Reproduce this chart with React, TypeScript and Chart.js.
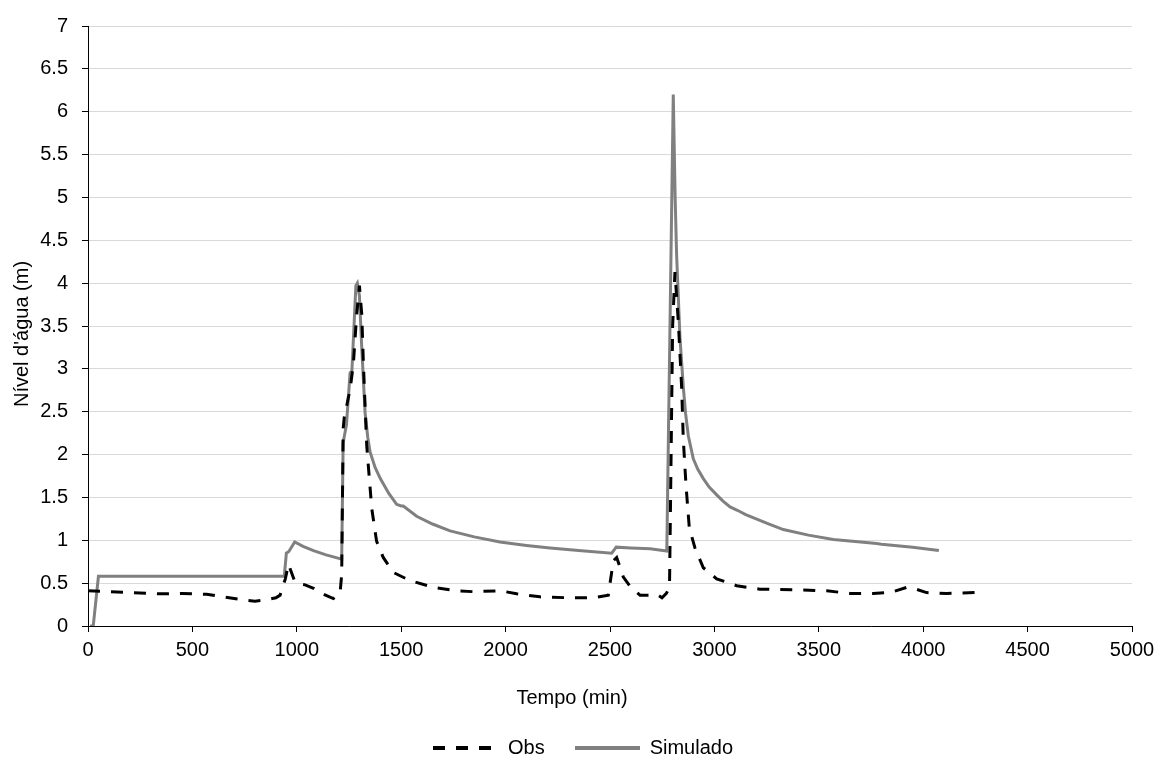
import React, { useEffect, useRef } from "react";
import { Chart, registerables } from "chart.js";

Chart.register(...registerables);

// ---- Data ----
const obsTime = [0, 100, 200, 345, 450, 568, 648, 700, 760, 800, 840, 900, 920, 945, 960, 975, 990, 1015, 1040, 1080, 1120, 1175, 1207, 1215, 1222, 1230, 1239, 1250, 1260, 1271, 1287, 1300, 1311, 1319, 1327, 1335, 1359, 1382, 1414, 1462, 1542, 1654, 1766, 1850, 1957, 2000, 2053, 2165, 2293, 2420, 2492, 2516, 2532, 2564, 2600, 2644, 2700, 2725, 2749, 2770, 2785, 2800, 2811, 2827, 2843, 2851, 2864, 2880, 2907, 2947, 3011, 3107, 3218, 3410, 3538, 3649, 3760, 3841, 3921, 3953, 4016, 4112, 4253];
const obsLevel = [0.41, 0.40, 0.39, 0.376, 0.38, 0.37, 0.34, 0.32, 0.30, 0.29, 0.30, 0.33, 0.36, 0.55, 0.72, 0.62, 0.52, 0.49, 0.48, 0.44, 0.38, 0.32, 0.38, 0.6, 2.3, 2.5, 2.57, 2.7, 2.85, 3.06, 3.64, 3.97, 3.64, 3.06, 2.57, 2.1, 1.37, 0.99, 0.80, 0.625, 0.53, 0.45, 0.41, 0.40, 0.41, 0.40, 0.376, 0.34, 0.33, 0.33, 0.36, 0.76, 0.80, 0.57, 0.45, 0.36, 0.36, 0.37, 0.33, 0.38, 0.45, 3.5, 4.13, 3.56, 2.79, 2.18, 1.64, 1.14, 0.91, 0.68, 0.55, 0.47, 0.43, 0.42, 0.41, 0.38, 0.38, 0.39, 0.45, 0.44, 0.39, 0.38, 0.39];

const simTime = [10, 25, 50, 940, 950, 962, 990, 1030, 1080, 1140, 1215, 1222, 1238, 1255, 1264, 1283, 1290, 1300, 1311, 1327, 1340, 1351, 1375, 1400, 1440, 1478, 1500, 1510, 1574, 1650, 1734, 1850, 1973, 2100, 2213, 2350, 2508, 2530, 2600, 2692, 2772, 2803, 2812, 2819, 2835, 2851, 2862, 2875, 2899, 2920, 2947, 2975, 3011, 3040, 3075, 3110, 3150, 3200, 3250, 3330, 3450, 3570, 3700, 3777, 3800, 3950, 4075];
const simLevel = [0, 0, 0.58, 0.58, 0.85, 0.87, 0.98, 0.93, 0.88, 0.83, 0.78, 2.14, 2.35, 2.95, 2.98, 3.97, 4.0, 3.85, 3.25, 2.49, 2.2, 2.03, 1.85, 1.72, 1.55, 1.42, 1.40, 1.40, 1.28, 1.19, 1.11, 1.04, 0.98, 0.94, 0.91, 0.88, 0.85, 0.92, 0.91, 0.90, 0.875, 6.2, 5.0, 4.33, 3.37, 2.79, 2.48, 2.22, 1.95, 1.83, 1.72, 1.62, 1.53, 1.46, 1.39, 1.35, 1.30, 1.25, 1.20, 1.125, 1.06, 1.01, 0.98, 0.963, 0.955, 0.92, 0.88];

const seriesNames = ["Obs", "Simulado"];
const seriesColors = ["#000000", "#808080"];
const xTickValues = [0, 500, 1000, 1500, 2000, 2500, 3000, 3500, 4000, 4500, 5000];
const yTickValues = [0, 0.5, 1, 1.5, 2, 2.5, 3, 3.5, 4, 4.5, 5, 5.5, 6, 6.5, 7];
const xAxisTitle = "Tempo (min)";
const yAxisTitle = "Nível d'água (m)";

const FONT = "'Liberation Sans', Arial, sans-serif";
const FONT_SIZE = 20;
const LEGEND_LINE_W = 65;

function makeLegendLine(color: string, dash: number[]) {
  const c = document.createElement("canvas");
  c.width = LEGEND_LINE_W;
  c.height = 4;
  const ctx = c.getContext("2d")!;
  ctx.strokeStyle = color;
  ctx.lineWidth = 4;
  ctx.setLineDash(dash);
  ctx.beginPath();
  ctx.moveTo(0, 2);
  ctx.lineTo(LEGEND_LINE_W, 2);
  ctx.stroke();
  return c;
}

export default function App() {
  const canvasRef = useRef<HTMLCanvasElement>(null);

  useEffect(() => {
    if (!canvasRef.current) return;

    const titlePlugin = {
      id: "axisTitles",
      afterDraw(chart: any) {
        const ctx = chart.ctx;
        const area = chart.chartArea;
        ctx.save();
        ctx.fillStyle = "#000";
        ctx.font = `${FONT_SIZE}px ${FONT}`;
        ctx.textAlign = "center";
        ctx.textBaseline = "middle";
        ctx.fillText(xAxisTitle, chart.width / 2 - 11, area.bottom + 72);
        ctx.translate(22.5, (area.top + area.bottom) / 2 + 8);
        ctx.rotate(-Math.PI / 2);
        ctx.fillText(yAxisTitle, 0, 0);
        ctx.restore();
      },
    };

    const obsLegend = makeLegendLine(seriesColors[0], [12, 11]);
    const simLegend = makeLegendLine(seriesColors[1], []);

    const chart = new Chart(canvasRef.current, {
      type: "line",
      data: {
        datasets: [
          {
            label: seriesNames[0],
            data: obsTime.map((t, i) => ({ x: t, y: obsLevel[i] })),
            borderColor: seriesColors[0],
            backgroundColor: seriesColors[0],
            borderWidth: 3,
            borderDash: [12, 11],
            pointRadius: 0,
            pointStyle: obsLegend,
            tension: 0,
            fill: false,
          },
          {
            label: seriesNames[1],
            data: simTime.map((t, i) => ({ x: t, y: simLevel[i] })),
            borderColor: seriesColors[1],
            backgroundColor: seriesColors[1],
            borderWidth: 3,
            pointRadius: 0,
            pointStyle: simLegend,
            tension: 0,
            fill: false,
          },
        ],
      },
      options: {
        responsive: false,
        animation: false,
        layout: { padding: { top: 18, right: 17, bottom: -6, left: 17 } },
        plugins: {
          legend: {
            position: "bottom",
            labels: {
              usePointStyle: true,
              pointStyleWidth: LEGEND_LINE_W,
              padding: 30,
              color: "#000",
              font: { family: FONT, size: FONT_SIZE },
            },
          },
          tooltip: { enabled: false },
        },
        scales: {
          x: {
            type: "linear",
            min: 0,
            max: 5000,
            afterBuildTicks: (scale: any) => {
              scale.ticks = xTickValues.map((v) => ({ value: v }));
            },
            afterFit: (scale: any) => {
              scale.height = 82;
            },
            grid: {
              drawOnChartArea: false,
              drawTicks: true,
              tickLength: 6,
              tickColor: "#000",
            },
            border: { color: "#000", width: 1 },
            ticks: {
              autoSkip: false,
              maxRotation: 0,
              padding: 6,
              color: "#000",
              font: { family: FONT, size: FONT_SIZE },
              callback: (v: any) => String(v),
            },
          },
          y: {
            type: "linear",
            position: "left",
            min: 0,
            max: 7,
            afterBuildTicks: (scale: any) => {
              scale.ticks = yTickValues.map((v) => ({ value: v }));
            },
            afterFit: (scale: any) => {
              scale.width = 71;
            },
            grid: {
              color: "#d9d9d9",
              lineWidth: 1,
              tickColor: "#000",
              tickLength: 6,
            },
            border: { color: "#000", width: 1 },
            ticks: {
              padding: 14,
              color: "#000",
              font: { family: FONT, size: FONT_SIZE },
              callback: (v: any) => String(v),
            },
          },
          yRight: {
            type: "linear",
            position: "right",
            display: true,
            grid: { display: false, drawTicks: false },
            border: { display: false },
            ticks: { display: false },
            afterFit: (scale: any) => {
              scale.width = 17;
            },
          },
        },
      },
      plugins: [titlePlugin],
    } as any);

    return () => chart.destroy();
  }, []);

  return (
    <div style={{ position: "absolute", left: 0, top: 0, width: 1166, height: 762, background: "#fff" }}>
      <canvas ref={canvasRef} width={1166} height={762} style={{ width: 1166, height: 762, display: "block" }} />
    </div>
  );
}
